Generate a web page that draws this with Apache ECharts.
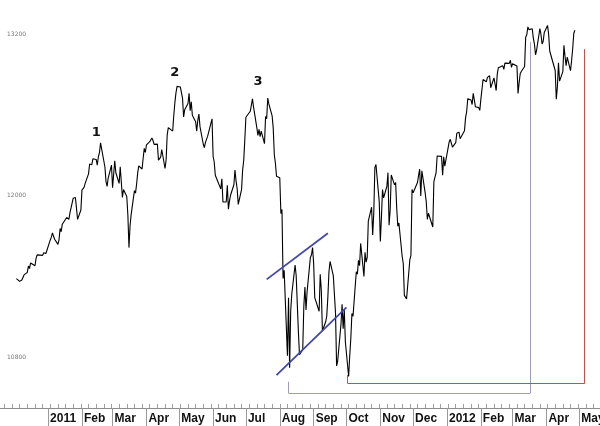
<!DOCTYPE html>
<html>
<head>
<meta charset="utf-8">
<script src="https://cdn.jsdelivr.net/npm/echarts@6/dist/echarts.min.js"></script>
<style>
  html, body {margin: 0; padding: 0; background: #fff;}
  #chart {width: 600px; height: 426px;}
</style>
</head>
<body>
<div id="chart"></div>
<script>
// daily closes
const points2010 = [
  ['2010-12-03',11382],['2010-12-06',11362],['2010-12-07',11359],['2010-12-08',11372],['2010-12-09',11370],['2010-12-10',11410],
  ['2010-12-13',11429],['2010-12-14',11476],['2010-12-15',11457],['2010-12-16',11499],['2010-12-17',11491],['2010-12-20',11478],
  ['2010-12-21',11533],['2010-12-22',11559],['2010-12-23',11573],['2010-12-27',11555],['2010-12-28',11575],['2010-12-29',11585],
  ['2010-12-30',11569],['2010-12-31',11578]
];
const points2011 = [
  ['2011-01-03',11670],['2011-01-04',11691],['2011-01-05',11722],['2011-01-06',11697],['2011-01-07',11675],['2011-01-10',11637],
  ['2011-01-11',11671],['2011-01-12',11755],['2011-01-13',11732],['2011-01-14',11787],['2011-01-18',11837],['2011-01-19',11825],
  ['2011-01-20',11823],['2011-01-21',11871],['2011-01-24',11980],['2011-01-25',11977],['2011-01-26',11985],['2011-01-27',11989],
  ['2011-01-28',11823],['2011-01-31',11892],
  ['2011-02-01',12040],['2011-02-02',12041],['2011-02-03',12062],['2011-02-04',12092],['2011-02-07',12161],['2011-02-08',12234],
  ['2011-02-09',12240],['2011-02-10',12229],['2011-02-11',12273],['2011-02-14',12268],['2011-02-15',12226],['2011-02-16',12288],
  ['2011-02-17',12318],['2011-02-18',12391],['2011-02-22',12212],['2011-02-23',12105],['2011-02-24',12068],['2011-02-25',12130],
  ['2011-02-28',12226],
  ['2011-03-01',12058],['2011-03-02',12066],['2011-03-03',12258],['2011-03-04',12169],['2011-03-07',12090],['2011-03-08',12214],
  ['2011-03-09',12213],['2011-03-10',11985],['2011-03-11',12044],['2011-03-14',11993],['2011-03-15',11855],['2011-03-16',11613],
  ['2011-03-17',11775],['2011-03-18',11858],['2011-03-21',12036],['2011-03-22',12018],['2011-03-23',12086],['2011-03-24',12170],
  ['2011-03-25',12220],['2011-03-28',12197],['2011-03-29',12279],['2011-03-30',12350],['2011-03-31',12320],
  ['2011-04-01',12376],['2011-04-04',12400],['2011-04-05',12393],['2011-04-06',12427],['2011-04-07',12409],['2011-04-08',12380],
  ['2011-04-11',12382],['2011-04-12',12263],['2011-04-13',12270],['2011-04-14',12285],['2011-04-15',12342],['2011-04-18',12201],
  ['2011-04-19',12266],['2011-04-20',12453],['2011-04-21',12505],['2011-04-25',12479],['2011-04-26',12595],['2011-04-27',12690],
  ['2011-04-28',12763],['2011-04-29',12811],
  ['2011-05-02',12807],['2011-05-03',12807],['2011-05-04',12724],['2011-05-05',12584],['2011-05-06',12638],['2011-05-09',12684],
  ['2011-05-10',12760],['2011-05-11',12630],['2011-05-12',12696],['2011-05-13',12596],['2011-05-16',12548],['2011-05-17',12479],
  ['2011-05-18',12561],['2011-05-19',12605],['2011-05-20',12512],['2011-05-23',12381],['2011-05-24',12356],['2011-05-25',12395],
  ['2011-05-26',12402],['2011-05-27',12441],['2011-05-31',12570],
  ['2011-06-01',12290],['2011-06-02',12249],['2011-06-03',12151],['2011-06-06',12089],['2011-06-07',12070],['2011-06-08',12048],
  ['2011-06-09',12124],['2011-06-10',11952],['2011-06-13',11953],['2011-06-14',12076],['2011-06-15',11898],['2011-06-16',11962],
  ['2011-06-17',12004],['2011-06-20',12080],['2011-06-21',12190],['2011-06-22',12109],['2011-06-23',12050],['2011-06-24',11934],
  ['2011-06-27',12043],['2011-06-28',12188],['2011-06-29',12261],['2011-06-30',12414],
  ['2011-07-01',12582],['2011-07-05',12626],['2011-07-06',12626],['2011-07-07',12719],['2011-07-08',12657],['2011-07-11',12505],
  ['2011-07-12',12447],['2011-07-13',12491],['2011-07-14',12437],['2011-07-15',12479],['2011-07-18',12385],['2011-07-19',12587],
  ['2011-07-20',12571],['2011-07-21',12724],['2011-07-22',12681],['2011-07-25',12592],['2011-07-26',12501],['2011-07-27',12303],
  ['2011-07-28',12240],['2011-07-29',12143],
  ['2011-08-01',12132],['2011-08-02',11866],['2011-08-03',11896],['2011-08-04',11384],['2011-08-05',11445],['2011-08-08',10810],
  ['2011-08-09',11240],['2011-08-10',10720],['2011-08-11',11144],['2011-08-12',11270],['2011-08-15',11483],['2011-08-16',11406],
  ['2011-08-17',11410],['2011-08-18',10991],['2011-08-19',10818],['2011-08-22',10855],['2011-08-23',11177],['2011-08-24',11320],
  ['2011-08-25',11150],['2011-08-26',11285],['2011-08-29',11540],['2011-08-30',11560],['2011-08-31',11614],
  ['2011-09-01',11494],['2011-09-02',11241],['2011-09-06',11140],['2011-09-07',11415],['2011-09-08',11296],['2011-09-09',10993],
  ['2011-09-12',11062],['2011-09-13',11106],['2011-09-14',11247],['2011-09-15',11434],['2011-09-16',11510],['2011-09-19',11402],
  ['2011-09-20',11409],['2011-09-21',11125],['2011-09-22',10734],['2011-09-23',10772],['2011-09-26',11044],['2011-09-27',11191],
  ['2011-09-28',11011],['2011-09-29',11154],['2011-09-30',10913],
  ['2011-10-03',10655],['2011-10-04',10809],['2011-10-05',10940],['2011-10-06',11124],['2011-10-07',11103],['2011-10-10',11433],
  ['2011-10-11',11416],['2011-10-12',11519],['2011-10-13',11479],['2011-10-14',11644],['2011-10-17',11398],['2011-10-18',11578],
  ['2011-10-19',11505],['2011-10-20',11541],['2011-10-21',11809],['2011-10-24',11913],['2011-10-25',11706],['2011-10-26',11869],
  ['2011-10-27',12209],['2011-10-28',12231],['2011-10-31',11955],
  ['2011-11-01',11658],['2011-11-02',11836],['2011-11-03',12044],['2011-11-04',11983],['2011-11-07',12069],['2011-11-08',12170],
  ['2011-11-09',11780],['2011-11-10',11893],['2011-11-11',12153],['2011-11-14',12079],['2011-11-15',12097],['2011-11-16',11906],
  ['2011-11-17',11771],['2011-11-18',11796],['2011-11-21',11547],['2011-11-22',11493],['2011-11-23',11258],['2011-11-25',11231],
  ['2011-11-28',11523],['2011-11-29',11556],['2011-11-30',12045],
  ['2011-12-01',12020],['2011-12-02',12019],['2011-12-05',12097],['2011-12-06',12150],['2011-12-07',12196],['2011-12-08',11997],
  ['2011-12-09',12184],['2011-12-12',12021],['2011-12-13',11955],['2011-12-14',11823],['2011-12-15',11868],['2011-12-16',11866],
  ['2011-12-19',11766],['2011-12-20',12103],['2011-12-21',12107],['2011-12-22',12169],['2011-12-23',12294],['2011-12-27',12291],
  ['2011-12-28',12151],['2011-12-29',12287],['2011-12-30',12218]
];
const points2012 = [
  ['2012-01-03',12398],['2012-01-04',12418],['2012-01-05',12415],['2012-01-06',12360],['2012-01-09',12393],['2012-01-10',12462],
  ['2012-01-11',12449],['2012-01-12',12471],['2012-01-13',12422],['2012-01-17',12482],['2012-01-18',12579],['2012-01-19',12624],
  ['2012-01-20',12720],['2012-01-23',12709],['2012-01-24',12676],['2012-01-25',12759],['2012-01-26',12757],['2012-01-27',12660],
  ['2012-01-30',12653],['2012-01-31',12633],
  ['2012-02-01',12716],['2012-02-02',12705],['2012-02-03',12862],['2012-02-06',12845],['2012-02-07',12878],['2012-02-08',12884],
  ['2012-02-09',12890],['2012-02-10',12801],['2012-02-13',12874],['2012-02-14',12878],['2012-02-15',12780],['2012-02-16',12904],
  ['2012-02-17',12950],['2012-02-21',12965],['2012-02-22',12938],['2012-02-23',12984],['2012-02-24',12983],['2012-02-27',12982],
  ['2012-02-28',13005],['2012-02-29',12952],
  ['2012-03-01',12980],['2012-03-02',12977],['2012-03-05',12962],['2012-03-06',12759],['2012-03-07',12837],['2012-03-08',12907],
  ['2012-03-09',12922],['2012-03-12',12959],['2012-03-13',13177],['2012-03-14',13194],['2012-03-15',13253],['2012-03-16',13233],
  ['2012-03-19',13239],['2012-03-20',13170],['2012-03-21',13125],['2012-03-22',13046],['2012-03-23',13081],['2012-03-26',13241],
  ['2012-03-27',13197],['2012-03-28',13126],['2012-03-29',13146],['2012-03-30',13212],
  ['2012-04-02',13264],['2012-04-03',13199],['2012-04-04',13074],['2012-04-05',13060],['2012-04-09',12929],['2012-04-10',12716],
  ['2012-04-11',12806],['2012-04-12',12986],['2012-04-13',12850],['2012-04-16',12921],['2012-04-17',13116],['2012-04-18',13033],
  ['2012-04-19',12964],['2012-04-20',13029],['2012-04-23',12928],['2012-04-24',13001],['2012-04-25',13091],['2012-04-26',13204],
  ['2012-04-27',13228]
];

const yTicks = [10800, 12000, 13200];
const monthNames = ['Jan','Feb','Mar','Apr','May','Jun','Jul','Aug','Sep','Oct','Nov','Dec'];
const monthStarts = ['2011-01-01','2011-02-01','2011-03-01','2011-04-01','2011-05-01','2011-06-01','2011-07-01','2011-08-01',
  '2011-09-01','2011-10-01','2011-11-01','2011-12-01','2012-01-01','2012-02-01','2012-03-01','2012-04-01','2012-05-01'];

// annotations, in date / index units
const peakLabels = [['1','2011-02-14',12464],['2','2011-04-27',12910],['3','2011-07-12',12843]];
const channelUpper = [['2011-07-20',11377],['2011-09-14',11719]];
const channelLower = [['2011-07-29',10666],['2011-10-01',11169]];
const grayBracket = [['2011-08-09',10616],['2011-08-09',10530],['2012-03-17',10530],['2012-03-17',13140]];
const redBracket = [['2011-10-02',10666],['2011-10-02',10605],['2012-05-06',10605],['2012-05-06',13088]];

// 'YYYY-MM-DD' -> local timestamp
function t(s) {
    const p = s.split('-');
    return new Date(+p[0], p[1] - 1, +p[2]).getTime();
}
const xMin = t('2010-11-18'), xMax = t('2012-05-20');

const weekTicks = [];
for (let d = new Date(2010, 10, 22); d.getTime() < xMax; d.setDate(d.getDate() + 7)) {
    weekTicks.push(d.getTime());
}
const monthTicks = monthStarts.map(t);

function segments(path, color, width) {
    const out = [];
    const style = {color: color, width: width, type: 'solid'};
    for (let i = 0; i < path.length - 1; i++) {
        out.push([{coord: [t(path[i][0]), path[i][1]], lineStyle: style},
                  {coord: [t(path[i + 1][0]), path[i + 1][1]], lineStyle: style}]);
    }
    return out;
}

const myChart = echarts.init(document.getElementById('chart'));
const option = {
    animation: false,
    backgroundColor: '#fff',
    grid: {left: 0, right: 0, top: 0, bottom: 18, outerBoundsMode: 'none', containLabel: false},
    xAxis: [{
        type: 'value', min: xMin, max: xMax,
        axisLine: {lineStyle: {color: '#8c8c8c', width: 1}},
        axisTick: {customValues: monthTicks, length: 18, lineStyle: {color: '#9a9a9a'}},
        axisLabel: {
            customValues: monthTicks, align: 'left', margin: 5, padding: [0, 0, 0, 2],
            fontFamily: 'Liberation Sans', fontWeight: 'bold', fontSize: 12, color: '#111',
            formatter: function (v) {
                const d = new Date(v);
                return d.getMonth() === 0 ? String(d.getFullYear()) : monthNames[d.getMonth()];
            }
        },
        splitLine: {show: false}
    }, {
        type: 'value', min: xMin, max: xMax, position: 'bottom',
        axisLine: {show: false},
        axisTick: {customValues: weekTicks, inside: true, length: 4, lineStyle: {color: '#a0a0a0'}},
        axisLabel: {show: false},
        splitLine: {show: false}
    }],
    yAxis: {
        type: 'value', min: 10421, max: 13453,
        axisLine: {show: false}, axisTick: {show: false}, splitLine: {show: false},
        axisLabel: {customValues: yTicks, inside: true, margin: 7, fontSize: 6, color: '#777', fontFamily: 'DejaVu Sans',
            formatter: function (v) { return String(v); }}
    },
    series: [{
        type: 'line', name: 'close', xAxisIndex: 0,
        data: points2010.concat(points2011, points2012).map(function (p) { return [t(p[0]), p[1]]; }),
        showSymbol: false, clip: false,
        lineStyle: {color: '#000', width: 1.1},
        markLine: {
            silent: true, symbol: ['none', 'none'], label: {show: false},
            data: [].concat(
                segments(channelUpper, '#4148a8', 1.8),
                segments(channelLower, '#4148a8', 1.8),
                segments(grayBracket, '#9d9dbb', 1),
                segments(redBracket, '#c24e4e', 1)
            )
        },
        markPoint: {
            silent: true, symbol: 'circle', symbolSize: 0,
            label: {show: true, color: '#111', fontWeight: 'bold', fontSize: 13, fontFamily: 'DejaVu Sans',
                formatter: function (p) { return p.name; }},
            data: peakLabels.map(function (p) { return {name: p[0], coord: [t(p[1]), p[2]]}; })
        }
    }]
};
myChart.setOption(option);
</script>
</body>
</html>
